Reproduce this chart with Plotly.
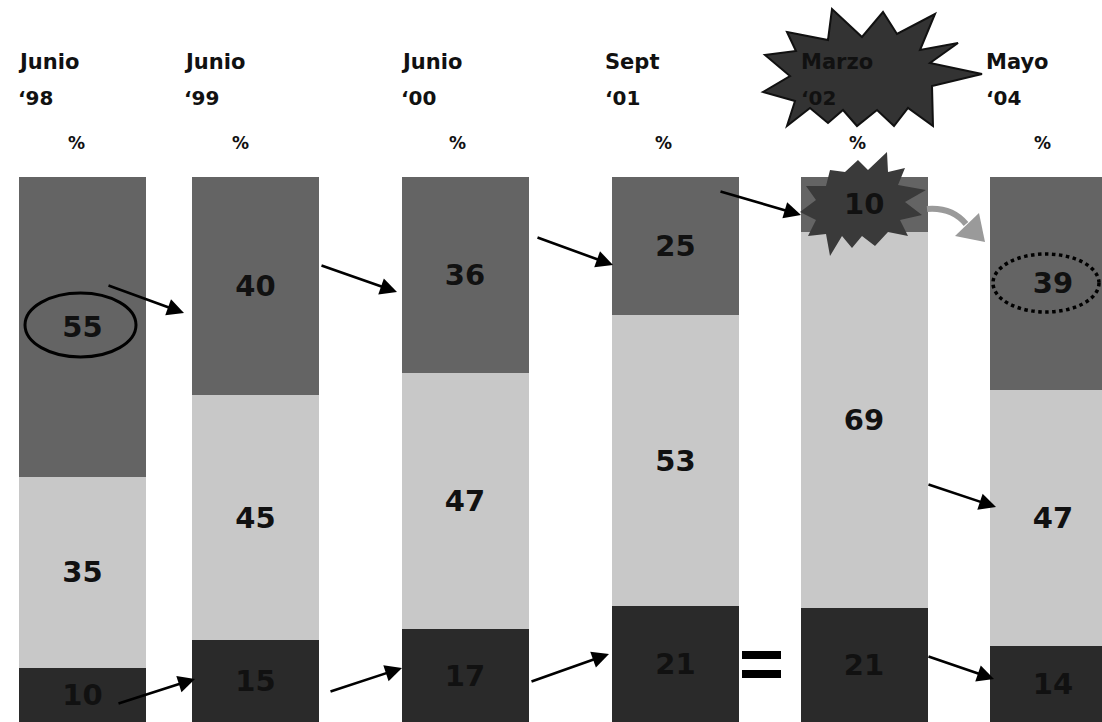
import plotly.graph_objects as go

# ---- data ----
periods = ["Junio<br>‘98", "Junio<br>‘99", "Junio<br>‘00", "Sept<br>‘01", "Marzo<br>‘02", "Mayo<br>‘04"]
bottom_vals = [10, 15, 17, 21, 21, 14]
middle_vals = [35, 45, 47, 53, 69, 47]
top_vals = [55, 40, 36, 25, 10, 39]

# ---- layout helpers (pixel layout of the slide) ----
W, H = 1102, 722
BAR_TOP_PX = 177
bar_centers = [82.5, 255.5, 465, 675.5, 864, 1053]
bar_width = 127
header_left = [16, 182, 399, 603, 799, 984]
pct_center = [76, 240, 457, 663, 857, 1042]

def X(px):
    return px / W

def Y(py):
    return 1 - py / H

C_BOT, C_MID, C_TOP = "#2a2a2a", "#c8c8c8", "#646464"
TXT = "#111111"
FONT = "DejaVu Sans"

fig = go.Figure()
for vals, col, name in [(bottom_vals, C_BOT, "bottom"), (middle_vals, C_MID, "middle"), (top_vals, C_TOP, "top")]:
    texts = [str(v) for v in vals]
    if name == "top":
        texts[4] = ""  # drawn above the starburst instead
    fig.add_trace(go.Bar(
        x=bar_centers, y=vals, width=bar_width, marker=dict(color=col, line=dict(width=0)),
        text=texts, texttemplate="<b>%{text}</b>", textposition="inside",
        insidetextanchor="middle", textangle=0, constraintext="none",
        textfont=dict(family=FONT, size=29, color=TXT), showlegend=False, hoverinfo="skip",
        name=name,
    ))

ymax = 100 * H / (H - BAR_TOP_PX)
fig.update_layout(
    width=W, height=H, margin=dict(l=0, r=0, t=0, b=0),
    barmode="stack", barnorm="percent",
    plot_bgcolor="white", paper_bgcolor="white",
    xaxis=dict(range=[0, W], visible=False, fixedrange=True),
    yaxis=dict(range=[0, ymax], visible=False, fixedrange=True),
    showlegend=False,
)

shapes = []
annotations = []

# big starburst behind "Marzo '02"
big_star = [(787, 32), (828, 40), (832, 9), (862, 37), (883, 12), (897, 34), (935, 14), (920, 50),
            (958, 43), (930, 63), (982, 74), (932, 86), (933, 126), (908, 108), (894, 126), (877, 110),
            (857, 126), (843, 110), (828, 123), (810, 108), (787, 126), (795, 101), (763, 92), (790, 76),
            (765, 55), (796, 51)]
path = "M " + " L ".join(f"{X(a):.5f},{Y(b):.5f}" for a, b in big_star) + " Z"
shapes.append(dict(type="path", xref="paper", yref="paper", path=path, fillcolor="#333333",
                   line=dict(color="#111111", width=2), layer="above"))

# small starburst on bar 5 top segment
small_star = [(830, 170), (845, 172), (858, 160), (868, 170), (887, 152), (888, 172), (905, 168),
              (898, 185), (926, 190), (905, 202), (922, 215), (900, 220), (908, 236), (888, 232),
              (875, 246), (862, 236), (852, 248), (842, 236), (830, 256), (826, 234), (808, 236),
              (816, 220), (800, 212), (816, 200), (806, 186), (826, 186)]
path = "M " + " L ".join(f"{X(a):.5f},{Y(b):.5f}" for a, b in small_star) + " Z"
shapes.append(dict(type="path", xref="paper", yref="paper", path=path, fillcolor="#3a3a3a",
                   line=dict(width=0), layer="above"))

# ellipse around 55
shapes.append(dict(type="circle", xref="paper", yref="paper", x0=X(25), x1=X(136), y0=Y(293), y1=Y(357),
                   line=dict(color="black", width=3), layer="above"))
# dotted ellipse around 39
shapes.append(dict(type="circle", xref="paper", yref="paper", x0=X(993), x1=X(1099), y0=Y(254), y1=Y(312),
                   line=dict(color="black", width=3.5, dash="dot"), layer="above"))

# "=" sign
for y0, y1 in [(651, 659), (670, 678)]:
    shapes.append(dict(type="rect", xref="paper", yref="paper", x0=X(742), x1=X(781), y0=Y(y0), y1=Y(y1),
                       fillcolor="black", line=dict(width=0), layer="above"))

# gray curved arrow
shapes.append(dict(type="path", xref="paper", yref="paper",
                   path=f"M {X(927):.5f},{Y(209):.5f} Q {X(952):.5f},{Y(207):.5f} {X(966):.5f},{Y(224):.5f}",
                   line=dict(color="#9a9a9a", width=6), layer="above"))
shapes.append(dict(type="path", xref="paper", yref="paper",
                   path=f"M {X(955):.5f},{Y(236):.5f} L {X(979):.5f},{Y(213):.5f} L {X(985):.5f},{Y(242):.5f} Z",
                   fillcolor="#9a9a9a", line=dict(width=0), layer="above"))

# black arrows (tail -> head)
arrows = [((107, 285), (184, 313)), ((320, 265), (397, 292)), ((536, 237), (613, 265)),
          ((719, 191), (801, 215)), ((117, 704), (195, 679)), ((329, 692), (402, 668)),
          ((530, 682), (609, 654)), ((927, 484), (996, 507)), ((927, 656), (994, 679))]
for (tx, ty), (hx, hy) in arrows:
    annotations.append(dict(xref="paper", yref="paper", x=X(hx), y=Y(hy), ax=tx - hx, ay=ty - hy,
                            text="", showarrow=True, arrowhead=2, arrowsize=1.3, arrowwidth=2.6,
                            arrowcolor="black", standoff=0))

# headers
for lbl, lx, pc in zip(periods, header_left, pct_center):
    l1, l2 = lbl.split("<br>")
    annotations.append(dict(xref="paper", yref="paper", x=X(lx), y=Y(62), text=f"<b>{l1}</b>",
                            showarrow=False, xanchor="left", yanchor="middle",
                            font=dict(family=FONT, size=21, color=TXT)))
    annotations.append(dict(xref="paper", yref="paper", x=X(lx), y=Y(98), text=f"<b>{l2}</b>",
                            showarrow=False, xanchor="left", yanchor="middle",
                            font=dict(family=FONT, size=20, color=TXT)))
    annotations.append(dict(xref="paper", yref="paper", x=X(pc), y=Y(143), text="<b>%</b>",
                            showarrow=False, xanchor="center", yanchor="middle",
                            font=dict(family=FONT, size=17, color=TXT)))

# label for bar 5 top segment, placed above the starburst (position from data)
tot5 = bottom_vals[4] + middle_vals[4] + top_vals[4]
mid5 = (bottom_vals[4] + middle_vals[4] + top_vals[4] / 2) / tot5 * 100
annotations.append(dict(xref="x", yref="y", x=bar_centers[4], y=mid5, text=f"<b>{top_vals[4]}</b>",
                        showarrow=False, xanchor="center", yanchor="middle",
                        font=dict(family=FONT, size=29, color=TXT)))

fig.update_layout(shapes=shapes, annotations=annotations)
fig.write_html("out.html")
